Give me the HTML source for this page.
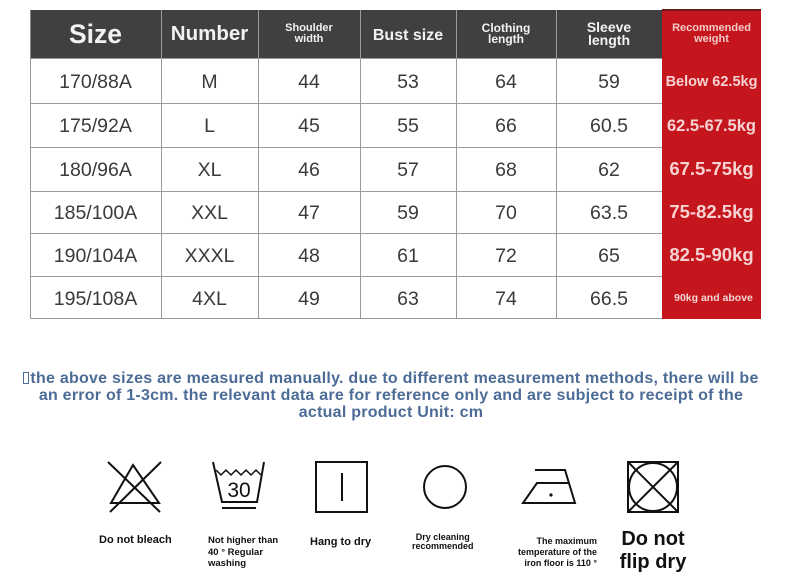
<!DOCTYPE html>
<html><head><meta charset="utf-8">
<style>
*{margin:0;padding:0;box-sizing:border-box}
html,body{width:790px;height:579px;background:#fff;overflow:hidden;position:relative;font-family:"Liberation Sans","DejaVu Sans",sans-serif}
.c{position:absolute;display:flex;align-items:center;justify-content:center;text-align:center;white-space:nowrap}
.h{color:#f2f2f2;font-weight:bold}
.b{color:#3a3a3a;font-size:19.5px;padding-top:3px}
.r{color:#f6d2d2;font-weight:bold}
.hl{position:absolute;height:1px;background:#9a9a9a}
.vl{position:absolute;width:1px;background:#9a9a9a}
.note{position:absolute;left:0;width:790px;text-align:center;color:#4c6c97;font-weight:bold;font-size:16px;letter-spacing:0.25px;white-space:nowrap}
.lab{position:absolute;font-weight:bold;color:#111;white-space:nowrap}
</style></head><body>

<!-- header dark -->
<div style="position:absolute;left:30px;top:10px;width:632px;height:48px;background:#404040"></div>
<!-- red column -->
<div style="position:absolute;left:662px;top:10px;width:99px;height:309px;background:#c5161d"></div>
<div style="position:absolute;left:662px;top:9px;width:99px;height:2px;background:#6a1a1a"></div>
<!-- table outer -->
<div style="position:absolute;left:30px;top:58px;width:632px;height:261px;border:1px solid #9a9a9a;border-right:none"></div>
<!-- row lines -->
<div class="hl" style="left:30px;top:103px;width:632px"></div>
<div class="hl" style="left:30px;top:147px;width:632px"></div>
<div class="hl" style="left:30px;top:191px;width:632px"></div>
<div class="hl" style="left:30px;top:233px;width:632px"></div>
<div class="hl" style="left:30px;top:276px;width:632px"></div>
<!-- col lines -->
<div class="vl" style="left:161px;top:10px;height:309px"></div>
<div class="vl" style="left:258px;top:10px;height:309px"></div>
<div class="vl" style="left:360px;top:10px;height:309px"></div>
<div class="vl" style="left:456px;top:10px;height:309px"></div>
<div class="vl" style="left:556px;top:10px;height:309px"></div>
<div style="position:absolute;left:30px;top:10px;width:1px;height:48px;background:#888"></div>

<!-- header text -->
<div class="c h" style="left:30px;top:10px;width:131px;height:48px;font-size:26.5px">Size</div>
<div class="c h" style="left:161px;top:10px;width:97px;height:48px;font-size:20.5px">Number</div>
<div class="c h" style="left:258px;top:10px;width:102px;height:48px;font-size:11px;line-height:11px">Shoulder<br>width</div>
<div class="c h" style="left:360px;top:10px;width:96px;height:48px;font-size:16px;padding-top:3px">Bust size</div>
<div class="c h" style="left:456px;top:10px;width:100px;height:48px;font-size:12px;line-height:11px">Clothing<br>length</div>
<div class="c h" style="left:556px;top:10px;width:106px;height:48px;font-size:14px;line-height:13px">Sleeve<br>length</div>
<div class="c r" style="left:662px;top:10px;width:99px;height:48px;font-size:11px;line-height:11px;color:#f3c9c9">Recommended<br>weight</div>

<!-- body rows -->
<div class="c b" style="left:30px;top:58px;width:131px;height:45px">170/88A</div>
<div class="c b" style="left:161px;top:58px;width:97px;height:45px">M</div>
<div class="c b" style="left:258px;top:58px;width:102px;height:45px">44</div>
<div class="c b" style="left:360px;top:58px;width:96px;height:45px">53</div>
<div class="c b" style="left:456px;top:58px;width:100px;height:45px">64</div>
<div class="c b" style="left:556px;top:58px;width:106px;height:45px">59</div>
<div class="c r" style="left:662px;top:58px;width:99px;height:45px;font-size:14.5px;padding-top:3px">Below 62.5kg</div>

<div class="c b" style="left:30px;top:103px;width:131px;height:44px">175/92A</div>
<div class="c b" style="left:161px;top:103px;width:97px;height:44px">L</div>
<div class="c b" style="left:258px;top:103px;width:102px;height:44px">45</div>
<div class="c b" style="left:360px;top:103px;width:96px;height:44px">55</div>
<div class="c b" style="left:456px;top:103px;width:100px;height:44px">66</div>
<div class="c b" style="left:556px;top:103px;width:106px;height:44px">60.5</div>
<div class="c r" style="left:662px;top:103px;width:99px;height:44px;font-size:16.5px;padding-top:3px">62.5-67.5kg</div>

<div class="c b" style="left:30px;top:147px;width:131px;height:44px">180/96A</div>
<div class="c b" style="left:161px;top:147px;width:97px;height:44px">XL</div>
<div class="c b" style="left:258px;top:147px;width:102px;height:44px">46</div>
<div class="c b" style="left:360px;top:147px;width:96px;height:44px">57</div>
<div class="c b" style="left:456px;top:147px;width:100px;height:44px">68</div>
<div class="c b" style="left:556px;top:147px;width:106px;height:44px">62</div>
<div class="c r" style="left:662px;top:147px;width:99px;height:44px;font-size:18.5px">67.5-75kg</div>

<div class="c b" style="left:30px;top:191px;width:131px;height:42px">185/100A</div>
<div class="c b" style="left:161px;top:191px;width:97px;height:42px">XXL</div>
<div class="c b" style="left:258px;top:191px;width:102px;height:42px">47</div>
<div class="c b" style="left:360px;top:191px;width:96px;height:42px">59</div>
<div class="c b" style="left:456px;top:191px;width:100px;height:42px">70</div>
<div class="c b" style="left:556px;top:191px;width:106px;height:42px">63.5</div>
<div class="c r" style="left:662px;top:191px;width:99px;height:42px;font-size:18.5px">75-82.5kg</div>

<div class="c b" style="left:30px;top:233px;width:131px;height:43px">190/104A</div>
<div class="c b" style="left:161px;top:233px;width:97px;height:43px">XXXL</div>
<div class="c b" style="left:258px;top:233px;width:102px;height:43px">48</div>
<div class="c b" style="left:360px;top:233px;width:96px;height:43px">61</div>
<div class="c b" style="left:456px;top:233px;width:100px;height:43px">72</div>
<div class="c b" style="left:556px;top:233px;width:106px;height:43px">65</div>
<div class="c r" style="left:662px;top:233px;width:99px;height:43px;font-size:18.5px">82.5-90kg</div>

<div class="c b" style="left:30px;top:276px;width:131px;height:43px">195/108A</div>
<div class="c b" style="left:161px;top:276px;width:97px;height:43px">4XL</div>
<div class="c b" style="left:258px;top:276px;width:102px;height:43px">49</div>
<div class="c b" style="left:360px;top:276px;width:96px;height:43px">63</div>
<div class="c b" style="left:456px;top:276px;width:100px;height:43px">74</div>
<div class="c b" style="left:556px;top:276px;width:106px;height:43px">66.5</div>
<div class="c r" style="left:662px;top:276px;width:99px;height:43px;font-size:10.5px;color:#f3d6d6;padding-left:4px">90kg and above</div>

<!-- note -->
<div class="note" style="top:370px;line-height:17px;left:-4px">
<span style="display:inline-block;width:6px;height:12px;border:1px solid #4c6c97;vertical-align:-1px;margin-right:1px"></span>the above sizes are measured manually. due to different measurement methods, there will be<br>
an error of 1-3cm. the relevant data are for reference only and are subject to receipt of the<br>
actual product Unit: cm</div>

<!-- icons -->
<svg width="790" height="579" style="position:absolute;left:0;top:0" xmlns="http://www.w3.org/2000/svg">
<g stroke="#111" stroke-width="2" fill="none">
 <!-- bleach -->
 <line x1="108" y1="462" x2="160" y2="512"/>
 <line x1="161" y1="462" x2="110" y2="512"/>
 <polygon points="133,465 111,503 159,503"/>
 <!-- wash tub -->
 <polyline points="213,462 222,502 257,502 264,462"/>
 <polyline points="216,470 221,475 226,470 231,475 236,470 241,475 246,470 251,475 256,470 261,475" stroke-width="1.5"/>
 <line x1="222" y1="508" x2="256" y2="508"/>
 <!-- hang -->
 <rect x="316" y="462" width="51" height="50"/>
 <line x1="342" y1="473" x2="342" y2="501"/>
 <!-- circle -->
 <circle cx="445" cy="487" r="21"/>
 <!-- iron -->
 <polyline points="535,470 565,470 575,503 523,503 537,483 569,483"/>
 <!-- tumble -->
 <rect x="628" y="462" width="50" height="50"/>
 <circle cx="653" cy="487" r="24"/>
 <line x1="628" y1="462" x2="678" y2="512"/>
 <line x1="678" y1="462" x2="628" y2="512"/>
</g>
<circle cx="551" cy="495" r="1.6" fill="#111"/>
<text x="239" y="497" font-family="Liberation Sans, sans-serif" font-size="21" text-anchor="middle" fill="#111">30</text>
</svg>

<div class="lab" style="left:99px;top:534px;font-size:11px">Do not bleach</div>
<div class="lab" style="left:208px;top:535px;font-size:9.5px;line-height:11.5px">Not higher than<br>40 ° Regular<br>washing</div>
<div class="lab" style="left:310px;top:536px;font-size:11px">Hang to dry</div>
<div class="lab" style="left:412px;top:533px;font-size:9px;line-height:9px;text-align:center">Dry cleaning<br>recommended</div>
<div class="lab" style="left:500px;top:536px;font-size:9px;line-height:11px;text-align:right;width:97px">The maximum<br>temperature of the<br>iron floor is 110 °</div>
<div class="lab" style="left:612px;top:528px;font-size:20px;line-height:23px;text-align:center;width:82px">Do not<br>flip dry</div>

</body></html>
